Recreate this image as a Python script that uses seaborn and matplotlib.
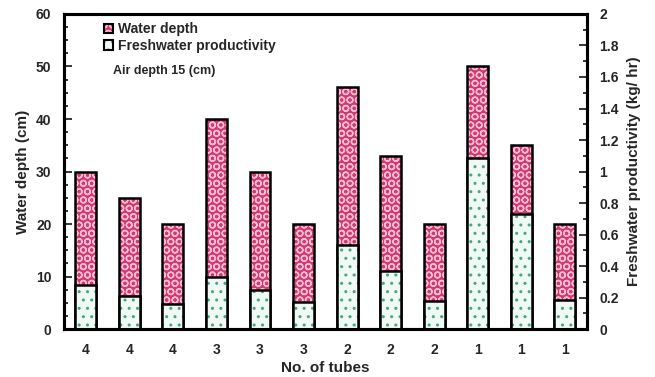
import matplotlib
matplotlib.use("Agg")
import matplotlib.pyplot as plt
import seaborn as sns
import pandas as pd
import numpy as np
from matplotlib.patches import Patch
from matplotlib.legend_handler import HandlerTuple

tubes = ["4", "4", "4", "3", "3", "3", "2", "2", "2", "1", "1", "1"]
water_depth = [30, 25, 20, 40, 30, 20, 46, 33, 20, 50, 35, 20]
productivity = [0.278, 0.21, 0.162, 0.333, 0.249, 0.17, 0.535, 0.37, 0.178, 1.085, 0.73, 0.187]

sns.set_style("white")
plt.rcParams['font.family'] = ['Liberation Sans', 'DejaVu Sans']
plt.rcParams['font.weight'] = 'bold'
plt.rcParams['hatch.linewidth'] = 1.0

df = pd.DataFrame({"idx": list(range(len(tubes))), "water": water_depth, "prod": productivity})

fig = plt.figure(figsize=(6.55, 3.77), dpi=100)
ax = fig.add_axes([0.0977, 0.127, 0.798, 0.836])
ax2 = ax.twinx()

W = 0.48
water_face = "#d23a6f"
water_hatch = "#f6bcd3"
prod_face = "#eefaf3"
prod_hatch = "#4aa383"

# water depth (left axis)
sns.barplot(data=df, x="idx", y="water", ax=ax, width=W, color=water_face,
            saturation=1, linewidth=0, edgecolor=water_hatch, hatch="OO")
sns.barplot(data=df, x="idx", y="water", ax=ax, width=W, fill=False,
            linewidth=1.8, edgecolor="black")
# productivity (right axis)
sns.barplot(data=df, x="idx", y="prod", ax=ax2, width=W, color=prod_face,
            saturation=1, linewidth=0, edgecolor=prod_hatch, hatch="..")
sns.barplot(data=df, x="idx", y="prod", ax=ax2, width=W, fill=False,
            linewidth=1.8, edgecolor="black")

ax.set_xlim(-0.5, len(tubes) - 0.5)
ax.set_ylim(0, 60)
ax2.set_ylim(0, 2)
ax.set_yticks(np.arange(0, 61, 10))
ax.set_yticks(np.arange(0, 60, 2.5), minor=True)
ax2.set_yticks(np.arange(0, 2.01, 0.2))
ax2.set_yticks(np.arange(0, 2.0, 0.1), minor=True)
ax2.set_yticklabels(["0", "0.2", "0.4", "0.6", "0.8", "1", "1.2", "1.4", "1.6", "1.8", "2"])
ax.set_xticks(range(len(tubes)))
ax.set_xticklabels(tubes)

for a in (ax, ax2):
    for s in a.spines.values():
        s.set_linewidth(2.2)
        s.set_color("black")
    a.tick_params(axis="y", which="major", direction="in", length=6, width=1.3,
                  labelsize=10, pad=9)
    a.tick_params(axis="y", which="minor", direction="in", length=3, width=1.3)
ax.tick_params(axis="y", left=True, right=False, which="both")
ax2.tick_params(axis="y", right=True, left=False, which="both")
ax.tick_params(axis="x", length=0, labelsize=10, pad=10)

ax.set_xlabel("No. of tubes", fontsize=11, fontweight="bold", labelpad=3)
ax.set_ylabel("Water depth (cm)", fontsize=11, fontweight="bold", labelpad=4)
ax2.set_ylabel("Freshwater productivity (kg/ hr)", fontsize=11, fontweight="bold", labelpad=6)

h1 = (Patch(facecolor=water_face, edgecolor=water_hatch, hatch="OO", linewidth=0),
      Patch(fill=False, edgecolor="black", linewidth=1.5))
h2 = (Patch(facecolor=prod_face, edgecolor=prod_hatch, hatch="..", linewidth=0),
      Patch(fill=False, edgecolor="black", linewidth=1.5))
leg = ax2.legend([h1, h2], ["Water depth", "Freshwater productivity"], loc="upper left",
                 bbox_to_anchor=(0.06, 1.0), frameon=False, fontsize=10,
                 handler_map={tuple: HandlerTuple(ndivide=1, pad=0)},
                 handlelength=0.7, handleheight=0.7, handletextpad=0.3, labelspacing=0.2,
                 borderaxespad=0.2)
ax2.text(0.093, 0.82, "Air depth 15 (cm)", transform=ax2.transAxes, fontsize=9,
         fontweight="bold", va="center")

ax.grid(False)
ax2.grid(False)
fig.savefig("out.png", dpi=100)
